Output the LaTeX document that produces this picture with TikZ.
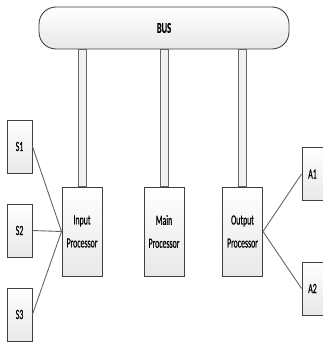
\documentclass[tikz,border=0pt]{standalone}
\usepackage{fontspec}
\setmainfont{Carlito}[FakeStretch=0.56, FakeBold=0.6]
\begin{document}
\begin{tikzpicture}[x=1pt,y=-1pt,
  box/.style={draw=black!75, line width=0.9pt, top color=white, bottom color=black!9, inner sep=0pt},
  proc/.style={box, minimum width=40pt, minimum height=89pt, align=center, font=\fontsize{14}{23}\selectfont},
  io/.style={box, minimum width=25pt, minimum height=53pt, font=\fontsize{14}{16}\selectfont},
  leg/.style={draw=black!60, line width=0.8pt, fill=black!6},
  wire/.style={draw=black!60, line width=0.9pt}]
\useasboundingbox[fill=white] (0,0) rectangle (323,342);
\node[box, rounded corners=17pt, minimum width=250pt, minimum height=42pt,
      font=\fontsize{15}{17}\selectfont\bfseries] (bus) at (164,28) {BUS};
\node[proc] (inp) at (82,231.5) {Input\\Processor};
\node[proc] (main) at (164,231.5) {Main\\Processor};
\node[proc] (out) at (242.5,231.5) {Output\\Processor};
\node[io] (s1) at (19.5,146.5) {S1};
\node[io] (s2) at (19.5,230.5) {S2};
\node[io] (s3) at (19.5,314.5) {S3};
\node[io, minimum width=21pt] (a1) at (312.5,174) {A1};
\node[io, minimum width=21pt] (a2) at (312.5,288.5) {A2};
\foreach \p in {inp,main,out}{
  \draw[leg] ([xshift=-4pt]\p.north) rectangle ([xshift=4pt]\p.north |- bus.south);
}
\draw[wire] (s1.east) -- (inp.west);
\draw[wire] (s2.east) -- (inp.west);
\draw[wire] (s3.east) -- (inp.west);
\draw[wire] (out.east) -- (a1.west);
\draw[wire] (out.east) -- (a2.west);
\end{tikzpicture}
\end{document}
